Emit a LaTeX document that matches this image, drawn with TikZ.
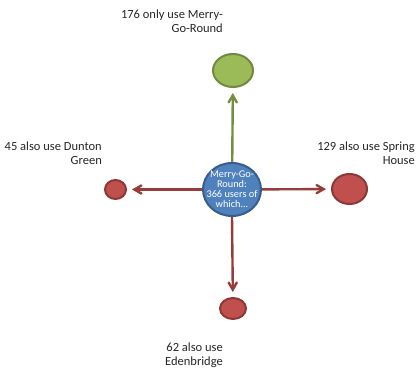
\documentclass[tikz,border=0pt]{standalone}
\usepackage{fontspec}
\setmainfont{Carlito}
\usepackage{xcolor}
\usepackage{tikz}
\usetikzlibrary{arrows}
\usetikzlibrary{shapes.geometric}

\definecolor{mgoblue}{HTML}{4F81BD}
\definecolor{mgoblueline}{HTML}{385D8A}
\definecolor{mgogreen}{HTML}{9BBB59}
\definecolor{mgogreenline}{HTML}{71893F}
\definecolor{mgored}{HTML}{C0504D}
\definecolor{mgoredline}{HTML}{8C3836}
\definecolor{mgotext}{HTML}{262626}

\tikzset{
  station/.style={ellipse, inner sep=0pt, line width=2pt},
  redstation/.style={station, fill=mgored, draw=mgoredline},
  countlabel/.style={anchor=north east, align=right, inner sep=0pt,
    text=mgotext, font=\fontsize{12.5}{14}\selectfont},
  link/.style={-angle 60, line width=2.4pt, shorten >=5pt}
}

\begin{document}
\begin{tikzpicture}[x=1pt, y=1pt]
\useasboundingbox (0,0) rectangle (419,367);
\node [station, fill=mgoblue, draw=mgoblueline, minimum width=58pt, minimum height=53pt,
  label={[text=white, align=center, font=\fontsize{10.3}{10}\selectfont]center:Merry-Go-\\Round:\\366 users of\\which...}] (MGR) at (232,177.5) {};
\node [station, fill=mgogreen, draw=mgogreenline, minimum width=40pt, minimum height=33pt] (MGRonly) at (233,296.5) {};
\node [redstation, minimum width=21pt, minimum height=19pt] (DG) at (115.5,177.5) {};
\node [redstation, minimum width=35pt, minimum height=30pt] (SH) at (349.5,178) {};
\node [redstation, minimum width=26pt, minimum height=21pt] (EB) at (233,58.5) {};
% counts
\node [countlabel] (MGRonlyText) at (223,357.5) {176 only use Merry-\\Go-Round};
\node [countlabel] (DGText) at (102,225.5) {45 also use Dunton\\Green};
\node [countlabel] (SHText) at (415,225.5) {129 also use Spring\\House};
\node [countlabel] (EBText) at (223,24.5) {62 also use\\Edenbridge};
% arrows
\draw [link, draw=mgogreenline!90!mgogreen] (MGR) to (MGRonly);
\draw [link, draw=mgoredline!80!mgored] (MGR) to (DG);
\draw [link, draw=mgoredline!80!mgored] (MGR) to (SH);
\draw [link, draw=mgoredline!80!mgored] (MGR.south) to (EB);
\end{tikzpicture}
\end{document}
